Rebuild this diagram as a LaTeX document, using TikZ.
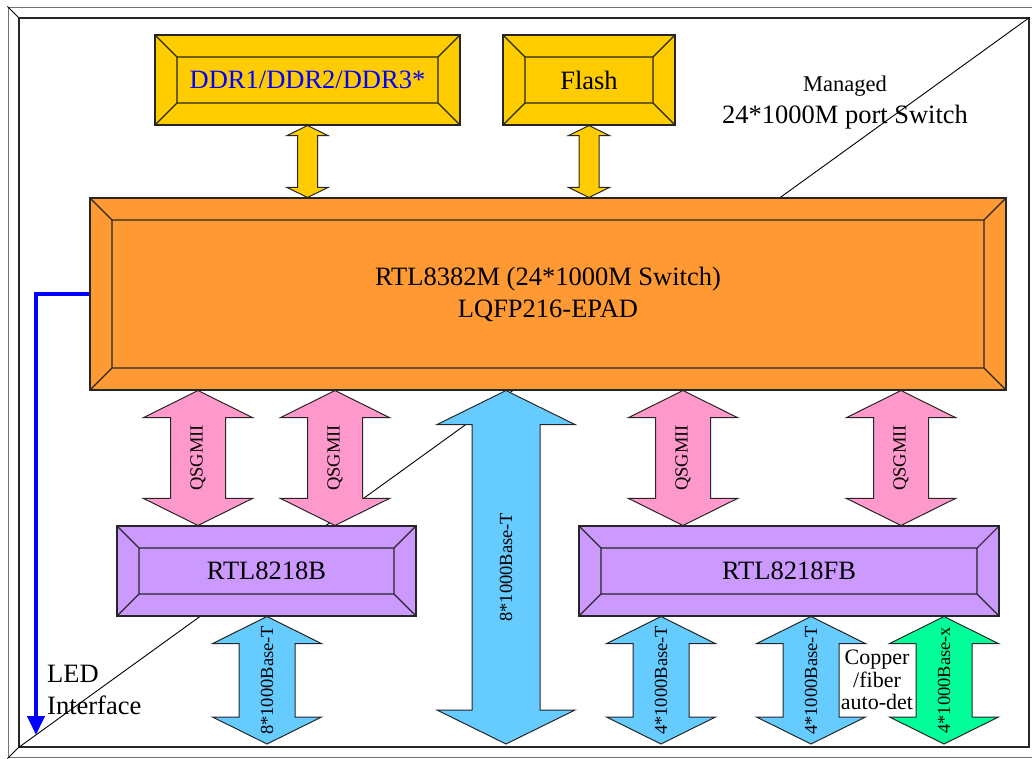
\documentclass[tikz,border=0pt]{standalone}
\usepackage{fontspec}
\setmainfont{Liberation Serif}
\usetikzlibrary{calc,arrows.meta}

\definecolor{memyellow}{HTML}{FFCC00}
\definecolor{chiporange}{HTML}{FF9933}
\definecolor{qpink}{HTML}{FF99CC}
\definecolor{phypurple}{HTML}{CC99FF}
\definecolor{portblue}{HTML}{66CCFF}
\definecolor{fibergreen}{HTML}{00FF99}
\definecolor{ledblue}{HTML}{0000FF}

\tikzset{
  bevel/.style={draw=black!85, line width=1.1pt, fill=#1, inner sep=0pt,
    path picture={
      \draw[black!85, line width=1.1pt, fill=none]
        ([shift={(22pt,-22pt)}]path picture bounding box.north west) rectangle
        ([shift={(-22pt,22pt)}]path picture bounding box.south east)
        (path picture bounding box.north west) -- ++(22pt,-22pt)
        (path picture bounding box.north east) -- ++(-22pt,-22pt)
        (path picture bounding box.south west) -- ++(22pt,22pt)
        (path picture bounding box.south east) -- ++(-22pt,22pt);
    }},
  fat/.style={draw=black!85, line width=1pt, fill=#1},
  portlabel/.style={rotate=90, inner sep=0pt, font=\fontsize{18.5}{20}\selectfont}
}

% fat double arrow: style, top end, bottom end, shaft half, head half, head length, label name, label
\newcommand\fatarrow[8]{%
  \draw[#1] let \p1=(#2), \p2=(#3) in
    (\x1,\y1) -- (\x1+#5pt,\y1-#6pt) -- (\x1+#4pt,\y1-#6pt) -- (\x1+#4pt,\y2+#6pt)
    -- (\x1+#5pt,\y2+#6pt) -- (\x1,\y2) -- (\x1-#5pt,\y2+#6pt) -- (\x1-#4pt,\y2+#6pt)
    -- (\x1-#4pt,\y1-#6pt) -- (\x1-#5pt,\y1-#6pt) -- cycle
    (\x1,{0.5*\y1+0.5*\y2}) node[portlabel] (#7) {#8};}

\begin{document}
\begin{tikzpicture}[x=1pt, y=-1pt, font=\fontsize{26.5}{32}\selectfont]
\useasboundingbox[fill=white] (0,0) rectangle (1032,758);

% frame
\draw[black!55, line width=1pt] (1032,7) -- (8,7) -- (8,757) -- (1032,757);
\node[draw=black!85, line width=1.2pt, minimum width=1010, minimum height=729, inner sep=0pt] (frame) at (524,382.5) {};
\draw[line width=0.9pt] (frame.north west) -- ++(-11pt,11pt) (frame.south west) -- ++(-11pt,-11pt);
\draw[line width=0.9pt] (frame.south west) -- (frame.north east);

% memory and switch chip
\node[bevel=memyellow, minimum width=305, minimum height=90, text=ledblue] (ddr) at (307.5,80) {DDR1/DDR2/DDR3*};
\node[bevel=memyellow, minimum width=172, minimum height=90] (flash) at (589,80) {Flash};
\node[bevel=chiporange, minimum width=916, minimum height=192, align=center] (chip) at (548,294) {RTL8382M (24*1000M Switch)\\LQFP216-EPAD};

% PHYs
\node[bevel=phypurple, minimum width=299, minimum height=90] (phyB) at (266.5,571) {RTL8218B};
\node[bevel=phypurple, minimum width=420, minimum height=90] (phyF) at (789,571) {RTL8218FB};

\node[align=center] (title) at (845,103) {{\fontsize{22.5}{24}\selectfont Managed}\\24*1000M port Switch};

% arrow columns
\coordinate (floor) at (0,744);
\coordinate (colq1) at (198,0);
\coordinate (colq2) at (335,0);
\coordinate (colq3) at (683,0);
\coordinate (colq4) at (901,0);
\coordinate (colbig) at (506,0);
\coordinate (colp1) at (267,0);
\coordinate (colp2) at (661,0);
\coordinate (colp3) at (811,0);
\coordinate (colp4) at (944,0);

\fatarrow{fat=memyellow}{ddr.south}{chip.north -| ddr.south}{10}{20.5}{10}{lddr}{}
\fatarrow{fat=memyellow}{flash.south}{chip.north -| flash.south}{10}{20.5}{10}{lflash}{}

\fatarrow{fat=qpink}{chip.south -| colq1}{phyB.north -| colq1}{27.5}{54.5}{27}{lq1}{QSGMII}
\fatarrow{fat=qpink}{chip.south -| colq2}{phyB.north -| colq2}{27.5}{54.5}{27}{lq2}{QSGMII}
\fatarrow{fat=qpink}{chip.south -| colq3}{phyF.north -| colq3}{27.5}{54.5}{27}{lq3}{QSGMII}
\fatarrow{fat=qpink}{chip.south -| colq4}{phyF.north -| colq4}{27.5}{54.5}{27}{lq4}{QSGMII}

\fatarrow{fat=portblue}{chip.south -| colbig}{colbig |- floor}{34}{69}{34}{lbig}{8*1000Base-T}

\fatarrow{fat=portblue}{phyB.south -| colp1}{colp1 |- floor}{28}{54.5}{27}{lp1}{8*1000Base-T}
\fatarrow{fat=portblue}{phyF.south -| colp2}{colp2 |- floor}{28}{54.5}{27}{lp2}{4*1000Base-T}
\fatarrow{fat=portblue}{phyF.south -| colp3}{colp3 |- floor}{28}{54.5}{27}{lp3}{4*1000Base-T}
\fatarrow{fat=fibergreen}{phyF.south -| colp4}{colp4 |- floor}{28}{54.5}{27}{lp4}{4*1000Base-x}

\node[fill=white, align=center, inner sep=1pt, font=\fontsize{22}{22.5}\selectfont] (copper) at (877,680) {Copper\\/fiber\\auto-det};

% LED interface
\coordinate (ledend) at (36,735);
\draw[ledblue, line width=4pt, -{Triangle[width=17pt,length=19pt]}] (chip.west) -| (ledend);
\node[align=left, inner sep=0pt, anchor=west] (led) at (47,690) {LED\\Interface};
\end{tikzpicture}
\end{document}
